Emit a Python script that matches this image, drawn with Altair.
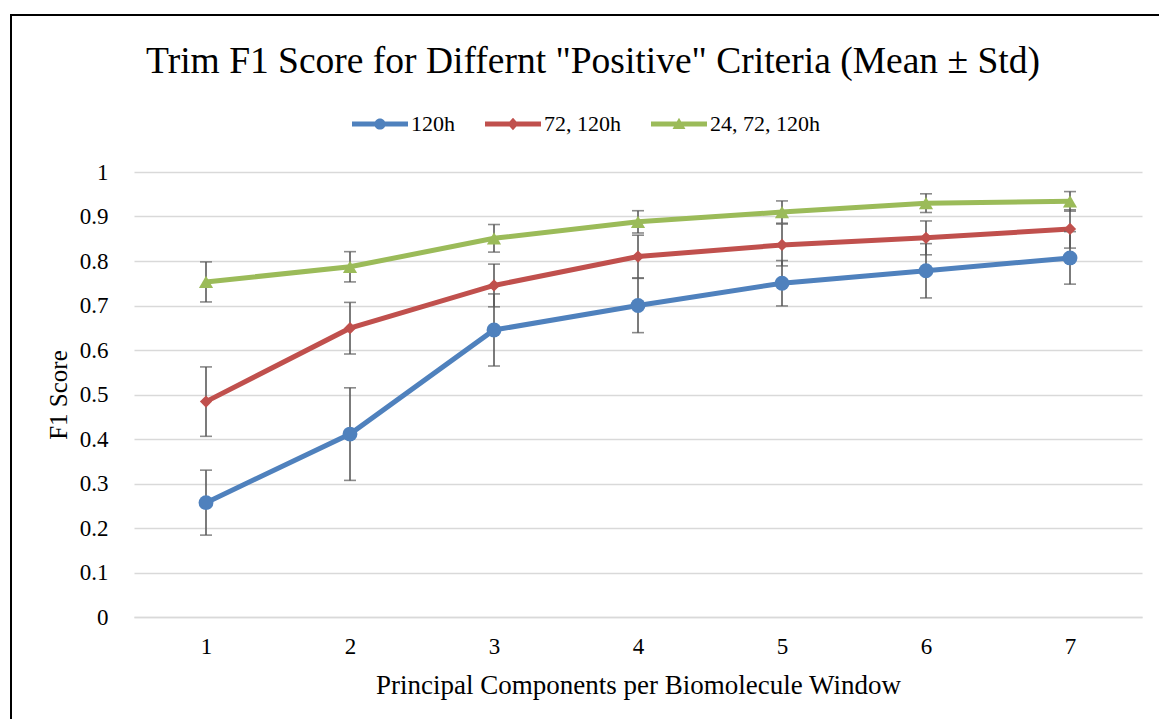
import altair as alt
import pandas as pd

# ---- data ----
components = [1, 2, 3, 4, 5, 6, 7]
series_names = ["120h", "72, 120h", "24, 72, 120h"]
mean_120 = [0.257, 0.411, 0.645, 0.700, 0.750, 0.778, 0.807]
std_120 = [0.073, 0.104, 0.081, 0.061, 0.051, 0.061, 0.059]
mean_72 = [0.484, 0.649, 0.745, 0.810, 0.836, 0.852, 0.872]
std_72 = [0.078, 0.058, 0.048, 0.048, 0.047, 0.038, 0.043]
mean_24 = [0.753, 0.787, 0.851, 0.888, 0.910, 0.930, 0.934]
std_24 = [0.045, 0.034, 0.031, 0.025, 0.025, 0.021, 0.022]
colors = ["#4F81BD", "#C0504D", "#9BBB59"]
shapes = ["circle", "diamond", "triangle-up"]
marker_sizes = [220, 150, 200]

rows = []
for name, means, stds in zip(series_names, [mean_120, mean_72, mean_24], [std_120, std_72, std_24]):
    for c, m, s in zip(components, means, stds):
        rows.append({"pc": c, "series": name, "mean": m, "std": s})
df = pd.DataFrame(rows)

FONT = "Liberation Serif"
W, H = 1008, 445

x_enc = alt.X(
    "pc:O",
    scale=alt.Scale(type="point", padding=0.5),
    axis=alt.Axis(
        title="Principal Components per Biomolecule Window",
        labelAngle=0, ticks=False, grid=False, domain=True,
        domainColor="#d9d9d9", domainWidth=1.5,
        labelPadding=18, titlePadding=14, titleFontSize=27,
    ),
)
y_scale = alt.Scale(domain=[0, 1], nice=False)
y_enc = alt.Y(
    "mean:Q", scale=y_scale,
    axis=alt.Axis(
        title="F1 Score", values=[i / 10 for i in range(11)], tickCount=11,
        format="~g", ticks=False, domain=False, grid=True,
        gridColor="#d9d9d9", gridWidth=1.5, labelPadding=26, titlePadding=8,
    ),
)

base = alt.Chart(df)

lines = base.mark_line(strokeWidth=5).encode(
    x=x_enc, y=y_enc,
    stroke=alt.Stroke("series:N", sort=series_names, scale=alt.Scale(range=colors), legend=None),
    detail="series:N",
)

err = base.transform_calculate(
    lo="datum.mean - datum.std", hi="datum.mean + datum.std"
)
err_rule = err.mark_rule(color="#5a5a5a", strokeWidth=1.6).encode(
    x="pc:O", y=alt.Y("lo:Q", scale=y_scale), y2="hi:Q"
)
err_lo = err.mark_tick(color="#5a5a5a", thickness=1.6, size=12).encode(
    x="pc:O", y=alt.Y("lo:Q", scale=y_scale)
)
err_hi = err.mark_tick(color="#5a5a5a", thickness=1.6, size=12).encode(
    x="pc:O", y=alt.Y("hi:Q", scale=y_scale)
)

point_layers = []
for name, shp, sz, col in zip(series_names, shapes, marker_sizes, colors):
    point_layers.append(
        base.transform_filter(alt.datum.series == name)
        .mark_point(shape=shp, size=sz, filled=True, opacity=1, strokeWidth=0, color=col)
        .encode(x="pc:O", y=alt.Y("mean:Q", scale=y_scale))
    )

# legend-only layer: line-with-marker symbols drawn as custom paths
legend_paths = [
    "M-1,-0.09 L1,-0.09 L1,0.09 L-1,0.09 Z M-0.2,0 A0.2,0.2 0 1,1 0.2,0 A0.2,0.2 0 1,1 -0.2,0 Z",
    "M-1,-0.09 L1,-0.09 L1,0.09 L-1,0.09 Z M0,-0.22 L0.2,0 L0,0.22 L-0.2,0 Z",
    "M-1,-0.09 L1,-0.09 L1,0.09 L-1,0.09 Z M0,-0.22 L0.23,0.18 L-0.23,0.18 Z",
]
leg_props = dict(
    title=None, orient="none", direction="horizontal",
    legendX=218, legendY=-76,
    symbolSize=3136, symbolStrokeWidth=0, labelOffset=3,
    columnPadding=30, labelFont=FONT, labelFontSize=22, labelColor="#000000",
)
legend_layer = base.transform_filter("false").mark_point(filled=True, opacity=1, strokeWidth=0).encode(
    x="pc:O", y=alt.Y("mean:Q", scale=y_scale),
    color=alt.Color("series:N", scale=alt.Scale(domain=series_names, range=colors),
                    legend=alt.Legend(**leg_props)),
    shape=alt.Shape("series:N", scale=alt.Scale(domain=series_names, range=legend_paths),
                    legend=alt.Legend(**leg_props)),
)

frame = alt.Chart(alt.Data(values=[{"f": 1}])).mark_rect(
    filled=False, stroke="#000000", strokeWidth=2
).encode(
    x=alt.value(-123), x2=alt.value(1040), y=alt.value(-157), y2=alt.value(580)
)

chart = alt.layer(
    frame, lines, err_rule, err_lo, err_hi, *point_layers, legend_layer
).properties(
    width=W, height=H,
    background="white",
    title=alt.TitleParams(
        'Trim F1 Score for Differnt "Positive" Criteria (Mean ± Std)',
        font=FONT, fontSize=37.5, fontWeight="normal", color="#000000",
        anchor="middle", dx=-45, offset=-66,
    ),
    autosize=alt.AutoSizeParams(type="none"),
    padding={"left": 126, "top": 164, "right": 17, "bottom": 102},
).configure_view(stroke=None).configure_axis(
    labelFont=FONT, labelFontSize=23, labelColor="#000000",
    titleFont=FONT, titleFontSize=25, titleFontWeight="normal", titleColor="#000000",
)

chart.save("out.html", embed_options={"renderer": "svg", "actions": False})
